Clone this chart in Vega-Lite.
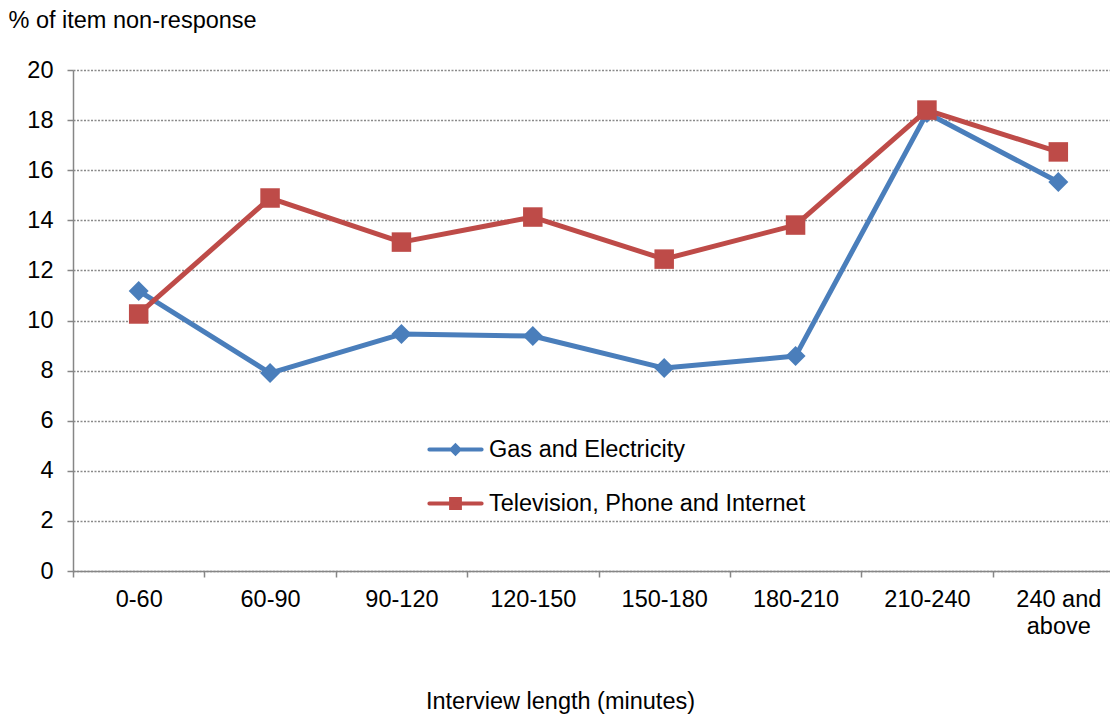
{
  "$schema": "https://vega.github.io/schema/vega-lite/v6.json",
  "width": 1037,
  "height": 501,
  "autosize": {"type": "none"},
  "padding": {"left": 73, "top": 70, "right": 0, "bottom": 144},
  "background": "white",
  "config": {
    "font": "Liberation Sans",
    "view": {"stroke": null}
  },
  "data": {
    "values": [
      {"series": "Gas and Electricity", "length": "0-60", "value": 11.18},
      {"series": "Gas and Electricity", "length": "60-90", "value": 7.9},
      {"series": "Gas and Electricity", "length": "90-120", "value": 9.46},
      {"series": "Gas and Electricity", "length": "120-150", "value": 9.38},
      {"series": "Gas and Electricity", "length": "150-180", "value": 8.1},
      {"series": "Gas and Electricity", "length": "180-210", "value": 8.58},
      {"series": "Gas and Electricity", "length": "210-240", "value": 18.28},
      {"series": "Gas and Electricity", "length": "240 and above", "value": 15.53},
      {"series": "Television, Phone and Internet", "length": "0-60", "value": 10.26},
      {"series": "Television, Phone and Internet", "length": "60-90", "value": 14.89},
      {"series": "Television, Phone and Internet", "length": "90-120", "value": 13.13},
      {"series": "Television, Phone and Internet", "length": "120-150", "value": 14.13},
      {"series": "Television, Phone and Internet", "length": "150-180", "value": 12.45},
      {"series": "Television, Phone and Internet", "length": "180-210", "value": 13.81},
      {"series": "Television, Phone and Internet", "length": "210-240", "value": 18.4},
      {"series": "Television, Phone and Internet", "length": "240 and above", "value": 16.73}
    ]
  },
  "encoding": {
    "x": {
      "field": "length",
      "type": "nominal",
      "sort": ["0-60", "60-90", "90-120", "120-150", "150-180", "180-210", "210-240", "240 and above"],
      "scale": {"type": "band", "range": [0, 1051], "paddingInner": 0, "paddingOuter": 0},
      "axis": {
        "title": "Interview length (minutes)",
        "titleFontSize": 23.5,
        "titleFontWeight": "normal",
        "titleColor": "black",
        "titleX": 487,
        "titleY": 137,
        "titleBaseline": "alphabetic",
        "titleAnchor": "middle",
        "titleAlign": "center",
        "labelAngle": 0,
        "labelFontSize": 23.5,
        "labelColor": "black",
        "labelPadding": 10,
        "labelLineHeight": 27,
        "labelExpr": "datum.label == '240 and above' ? ['240 and', 'above'] : datum.label",
        "tickBand": "extent",
        "tickSize": 6,
        "tickColor": "#868686",
        "tickWidth": 1.5,
        "domainColor": "#868686",
        "domainWidth": 1.5,
        "grid": false
      }
    },
    "y": {
      "field": "value",
      "type": "quantitative",
      "scale": {"domain": [0, 20], "nice": false},
      "axis": {
        "values": [0, 2, 4, 6, 8, 10, 12, 14, 16, 18, 20],
        "title": "% of item non-response",
        "titleFontSize": 23.5,
        "titleFontWeight": "normal",
        "titleColor": "black",
        "titleAngle": 0,
        "titleAlign": "left",
        "titleBaseline": "alphabetic",
        "titleX": -65,
        "titleY": -43,
        "labelFontSize": 23.5,
        "labelColor": "black",
        "labelPadding": 14,
        "tickSize": 6,
        "tickColor": "#868686",
        "tickWidth": 1.5,
        "domainColor": "#868686",
        "domainWidth": 1.5,
        "grid": true,
        "gridColor": "#8a8a8a",
        "gridDash": [2, 1.5],
        "gridWidth": 1.5
      }
    }
  },
  "layer": [
    {
      "mark": {"type": "line", "strokeWidth": 5, "strokeJoin": "round"},
      "encoding": {
        "color": {
          "field": "series",
          "type": "nominal",
          "scale": {
            "domain": ["Gas and Electricity", "Television, Phone and Internet"],
            "range": ["#4a7ebb", "#be4b48"]
          },
          "legend": {
            "orient": "none",
            "legendX": 353,
            "legendY": 350,
            "title": null,
            "padding": 0,
            "labelFontSize": 23.5,
            "labelColor": "black",
            "labelLimit": 0,
            "labelOffset": 4,
            "rowPadding": 12,
            "symbolSize": 3025,
            "symbolStrokeWidth": 4,
            "symbolType": "M-1,0H1",
            "encode": {
              "symbols": {
                "update": {
                  "shape": {"signal": "datum.value == 'Gas and Electricity' ? 'M-0.95,0H0.95M0,-0.14L0.14,0L0,0.14L-0.14,0Z' : 'M-0.95,0H0.95M-0.16,-0.16H0.16V0.16H-0.16Z'"},
                  "fill": {"scale": "color", "field": "value"},
                  "stroke": {"scale": "color", "field": "value"},
                  "strokeCap": {"value": "round"}
                }
              }
            }
          }
        }
      }
    },
    {
      "transform": [{"filter": "datum.series == 'Gas and Electricity'"}],
      "mark": {"type": "point", "shape": "diamond", "size": 400, "filled": true, "opacity": 1, "color": "#4a7ebb"}
    },
    {
      "transform": [{"filter": "datum.series == 'Television, Phone and Internet'"}],
      "mark": {"type": "point", "shape": "square", "size": 380, "filled": true, "opacity": 1, "color": "#be4b48"}
    }
  ]
}
